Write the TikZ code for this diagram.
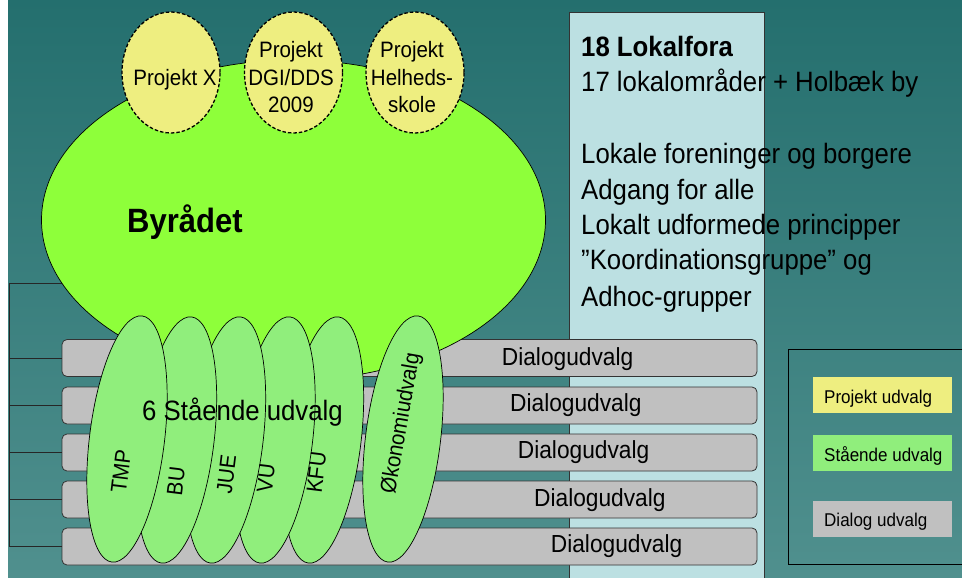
\documentclass[tikz,border=0pt]{standalone}
\usepackage{fontspec}
\setmainfont{Liberation Sans}[FakeStretch=0.92]
\usetikzlibrary{shapes.geometric}
\newcommand\myfs[1]{\fontsize{#1}{#1}\selectfont}
\definecolor{bgtop}{HTML}{246F6E}
\definecolor{bgbot}{HTML}{50908E}
\definecolor{byrcol}{HTML}{8EFF3A}
\definecolor{projcol}{HTML}{EEEE80}
\definecolor{standcol}{HTML}{90EE7C}
\definecolor{dlgcol}{HTML}{C0C0C0}
\definecolor{lokcol}{HTML}{BCE0E2}
\begin{document}
\begin{tikzpicture}[x=1pt,y=-1pt,
  dlgbox/.style={draw=black!80, fill=dlgcol, rounded corners=5pt, minimum width=695pt, minimum height=37pt, inner sep=0pt, line width=0.8pt},
  projell/.style={ellipse, draw=black, dash pattern=on 3.5pt off 2pt, fill=projcol, minimum width=98pt, minimum height=121pt, inner sep=0pt, line width=1.3pt},
  standell/.style={ellipse, draw=black, fill=standcol, minimum width=75pt, minimum height=248pt, inner sep=0pt, rotate=-7, line width=0.7pt},
  conn/.style={draw=black!85, line width=0.9pt},
  dlgtxt/.style={anchor=base west, font=\myfs{24.7}, inner sep=0pt},
  lok/.style={anchor=base west, font=\myfs{28}, inner sep=0pt},
  ptxt/.style={anchor=base, font=\myfs{22.3}, inner sep=0pt},
  rtxt/.style={font=\myfs{22.3}, inner sep=0pt, rotate=83},
  legbox/.style={minimum width=139pt, minimum height=36pt, inner sep=0pt},
  legtxt/.style={anchor=base west, font=\myfs{18.5}, inner sep=0pt}]
\useasboundingbox (0,0) rectangle (962,578);
\clip (0,0) rectangle (962,578);
\fill[white] (0,0) rectangle (962,578);
\shade[top color=bgtop, bottom color=bgbot] (8,0) rectangle (962,578);

% light blue column
\node[draw=black!80, fill=lokcol, line width=0.8pt, minimum width=195pt, minimum height=580pt, inner sep=0pt, anchor=north west] (lokbox) at (569,12) {};

% dialog boxes
\node[dlgbox] (d1) at (409.5,358) {};
\node[dlgbox] (d2) at (409.5,405.5) {};
\node[dlgbox] (d3) at (409.5,452.5) {};
\node[dlgbox] (d4) at (409.5,499.5) {};
\node[dlgbox] (d5) at (409.5,546.5) {};

% left connectors
\coordinate (c0) at (9,283);
\coordinate (c1) at (100,283);
\draw[conn] (c1) -- (c0) |- (d5.west);
\draw[conn] (c0|-d1.west) -- (d1.west);
\draw[conn] (c0|-d2.west) -- (d2.west);
\draw[conn] (c0|-d3.west) -- (d3.west);
\draw[conn] (c0|-d4.west) -- (d4.west);

% Byraadet
\node[ellipse, draw=black, fill=byrcol, minimum width=504pt, minimum height=320pt, inner sep=0pt, line width=0.7pt] (byr) at (293.5,220) {};

% project ellipses
\node[projell] (px) at (171,72.5) {};
\node[projell] (pd) at (293.5,72.5) {};
\node[projell] (ph) at (415,72.5) {};

% standing committees
\node[standell] (ok) at (403,439) {};
\node[standell] (kfu) at (323.5,440) {};
\node[standell] (vu) at (275,440) {};
\node[standell] (jue) at (225.5,440) {};
\node[standell] (bu) at (176.5,440) {};
\node[standell] (tmp) at (127,439) {};

% texts
\node[dlgtxt] (t1) at (501.7,365) {Dialogudvalg};
\node[dlgtxt] (t2) at (510,411.5) {Dialogudvalg};
\node[dlgtxt] (t3) at (517.7,458) {Dialogudvalg};
\node[dlgtxt] (t4) at (534,506) {Dialogudvalg};
\node[dlgtxt] (t5) at (550.7,552) {Dialogudvalg};

\node[ptxt] (pxt) at (175,85) {Projekt X};
\node[ptxt] (pd1) at (291,58) {Projekt};
\node[ptxt] (pd2) at (291,85.5) {DGI/DDS};
\node[ptxt] (pd3) at (291,113) {2009};
\node[ptxt] (ph1) at (412,58) {Projekt};
\node[ptxt] (ph2) at (412,85.5) {Helheds-};
\node[ptxt] (ph3) at (412,113) {skole};

\node[anchor=base west, font=\myfs{33.7}\bfseries, inner sep=0pt] (byrt) at (127,232) {Byrådet};

\node[rtxt] (tmpt) at (121,471.5) {TMP};
\node[rtxt] (but) at (176,481.5) {BU};
\node[rtxt] (juet) at (226.5,474.5) {JUE};
\node[rtxt] (vut) at (266,478) {VU};
\node[rtxt] (kfut) at (316.5,472.5) {KFU};
\node[rtxt, rotate=-3] (okt) at (401.5,423.5) {Økonomiudvalg};

\node[anchor=base, font=\myfs{28}, inner sep=0pt] (stt) at (242.5,420) {6 Stående udvalg};

\node[lok] (l1) at (581,57) {\bfseries 18 Lokalfora};
\node[lok] (l2) at (581,92) {17 lokalområder + Holbæk by};
\node[lok] (l3) at (581,163) {Lokale foreninger og borgere};
\node[lok] (l4) at (581,199) {Adgang for alle};
\node[lok] (l5) at (581,234) {Lokalt udformede principper};
\node[lok] (l6) at (581,269) {”Koordinationsgruppe” og};
\node[lok] (l7) at (581,306) {Adhoc-grupper};

% legend
\draw[draw=black, line width=1pt] (980,349) -- (788,349) -- (788,564) -- (980,564);
\node[legbox, fill=projcol] (lg1) at (882.5,395) {};
\node[legbox, fill=standcol] (lg2) at (882.5,453) {};
\node[legbox, fill=dlgcol] (lg3) at (882.5,519) {};
\node[legtxt] (lt1) at (824,403) {Projekt udvalg};
\node[legtxt] (lt2) at (824,461.5) {Stående udvalg};
\node[legtxt] (lt3) at (824,526.5) {Dialog udvalg};
\end{tikzpicture}
\end{document}
